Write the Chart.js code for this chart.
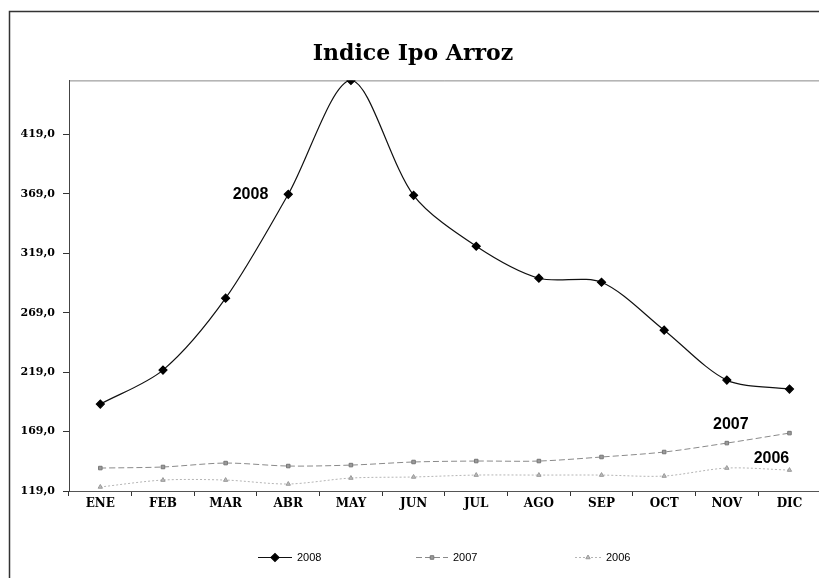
<!DOCTYPE html>
<html>
<head>
<meta charset="utf-8">
<script src="https://cdn.jsdelivr.net/npm/chart.js@4.4.0/dist/chart.umd.min.js"></script>
<style>
html,body{margin:0;padding:0;background:#fff;overflow:hidden;width:819px;height:578px;}
#wrap{position:relative;width:826px;height:578px;}
</style>
</head>
<body>
<div id="wrap"><canvas id="c" width="826" height="578"></canvas></div>
<script>
const months = ['ENE','FEB','MAR','ABR','MAY','JUN','JUL','AGO','SEP','OCT','NOV','DIC'];
const serie2008 = [192.1, 220.7, 281.2, 368.6, 464.4, 367.7, 324.9, 298.0, 294.6, 254.3, 212.3, 204.7];
const serie2007 = [138.3, 139.2, 142.5, 140.0, 140.8, 143.4, 144.2, 144.2, 147.6, 151.8, 159.3, 167.7];
const serie2006 = [122.4, 128.2, 128.2, 124.9, 129.9, 130.8, 132.4, 132.4, 132.4, 131.6, 138.3, 136.6];
const yTicks = [119, 169, 219, 269, 319, 369, 419];
const titleText = 'Indice Ipo Arroz';
const seriesNames = ['2008', '2007', '2006'];

const serif = '"DejaVu Serif", "Liberation Serif", serif';
const sans = '"Liberation Sans", Arial, sans-serif';

const framePlugin = {
  id: 'frame',
  beforeDraw(chart) {
    const ctx = chart.ctx, a = chart.chartArea;
    ctx.save();
    ctx.strokeStyle = '#333';
    ctx.lineWidth = 1.5;
    ctx.strokeRect(9.5, 11.5, 900, 600);
    ctx.strokeStyle = '#888';
    ctx.lineWidth = 1;
    ctx.beginPath();
    ctx.moveTo(a.left, a.top + 0.5);
    ctx.lineTo(a.right, a.top + 0.5);
    ctx.stroke();
    ctx.restore();
  },
  afterDraw(chart) {
    const ctx = chart.ctx;
    const xs = chart.scales.x, ys = chart.scales.y;
    ctx.save();
    ctx.fillStyle = '#000';
    ctx.font = 'bold 16px ' + sans;
    ctx.textBaseline = 'middle';
    ctx.textAlign = 'right';
    ctx.fillText(seriesNames[0], xs.getPixelForValue(3) - 20, ys.getPixelForValue(serie2008[3]));
    ctx.textAlign = 'center';
    ctx.fillText(seriesNames[1], xs.getPixelForValue(10) + 4, ys.getPixelForValue(serie2007[10]) - 18);
    ctx.fillText(seriesNames[2], xs.getPixelForValue(11) - 18, ys.getPixelForValue(serie2006[11]) - 11);
    const ly = 557;
    const items = [
      {x: 258, w: 34, ds: chart.data.datasets[0]},
      {x: 416, w: 32, ds: chart.data.datasets[1]},
      {x: 575, w: 26, ds: chart.data.datasets[2]}
    ];
    items.forEach(it => {
      const ds = it.ds;
      ctx.strokeStyle = ds.borderColor;
      ctx.lineWidth = ds.borderWidth;
      ctx.setLineDash(ds.borderDash || []);
      ctx.beginPath();
      ctx.moveTo(it.x, ly + 0.5);
      ctx.lineTo(it.x + it.w, ly + 0.5);
      ctx.stroke();
      ctx.setLineDash([]);
      ctx.fillStyle = ds.pointBackgroundColor;
      ctx.strokeStyle = ds.pointBorderColor;
      Chart.helpers.drawPoint(ctx, {
        pointStyle: ds.pointStyle, radius: ds.pointRadius, borderWidth: 1, rotation: 0
      }, it.x + it.w / 2, ly + 0.5);
      ctx.fillStyle = '#000';
      ctx.font = '11px ' + sans;
      ctx.textAlign = 'left';
      ctx.fillText(ds.label, it.x + it.w + 5, ly + 1);
    });
    ctx.restore();
  }
};

const chart = new Chart(document.getElementById('c'), {
  type: 'line',
  data: {
    labels: months,
    datasets: [
      {label: seriesNames[0], data: serie2008, borderColor: '#111', backgroundColor: '#111',
       borderWidth: 1.2, pointStyle: 'rectRot', pointRadius: 4, pointBackgroundColor: '#000', pointBorderColor: '#000',
       tension: 0.3},
      {label: seriesNames[1], data: serie2007, borderColor: '#8a8a8a', backgroundColor: '#8a8a8a',
       borderWidth: 1, borderDash: [6, 3], pointStyle: 'rect', pointRadius: 2.5,
       pointBackgroundColor: '#9a9a9a', pointBorderColor: '#777', tension: 0.3},
      {label: seriesNames[2], data: serie2006, borderColor: '#b5b5b5', backgroundColor: '#b5b5b5',
       borderWidth: 1, borderDash: [2, 2], pointStyle: 'triangle', pointRadius: 2.5,
       pointBackgroundColor: '#bbb', pointBorderColor: '#999', tension: 0.3}
    ]
  },
  options: {
    responsive: false,
    animation: false,
    layout: {padding: {left: 0, right: 0, top: 0, bottom: 0}},
    plugins: {
      legend: {display: false},
      tooltip: {enabled: false},
      title: {
        display: true, text: titleText, color: '#000',
        font: {family: serif, size: 22, weight: 'bold'},
        padding: {top: 41, bottom: 13}
      }
    },
    scales: {
      x: {
        offset: true,
        grid: {offset: true, drawOnChartArea: false, drawTicks: true, tickLength: 5, color: '#333'},
        border: {display: true, color: '#555', width: 1},
        ticks: {color: '#000', font: {family: serif, size: 12, weight: 'bold'}, padding: 1, maxRotation: 0, autoSkip: false},
        afterFit(s) { s.height = 87; }
      },
      y: {
        min: yTicks[0],
        max: 464.4,
        afterBuildTicks(s) { s.ticks = yTicks.map(v => ({value: v})); },
        grid: {drawOnChartArea: false, drawTicks: true, tickLength: 6, color: '#333'},
        border: {display: true, color: '#444', width: 1},
        ticks: {color: '#000', font: {family: serif, size: 11, weight: 'bold'}, padding: 8,
          callback: v => v.toFixed(1).replace('.', ',')},
        afterFit(s) { s.width = 69; }
      }
    }
  },
  plugins: [framePlugin]
});
</script>
</body>
</html>
